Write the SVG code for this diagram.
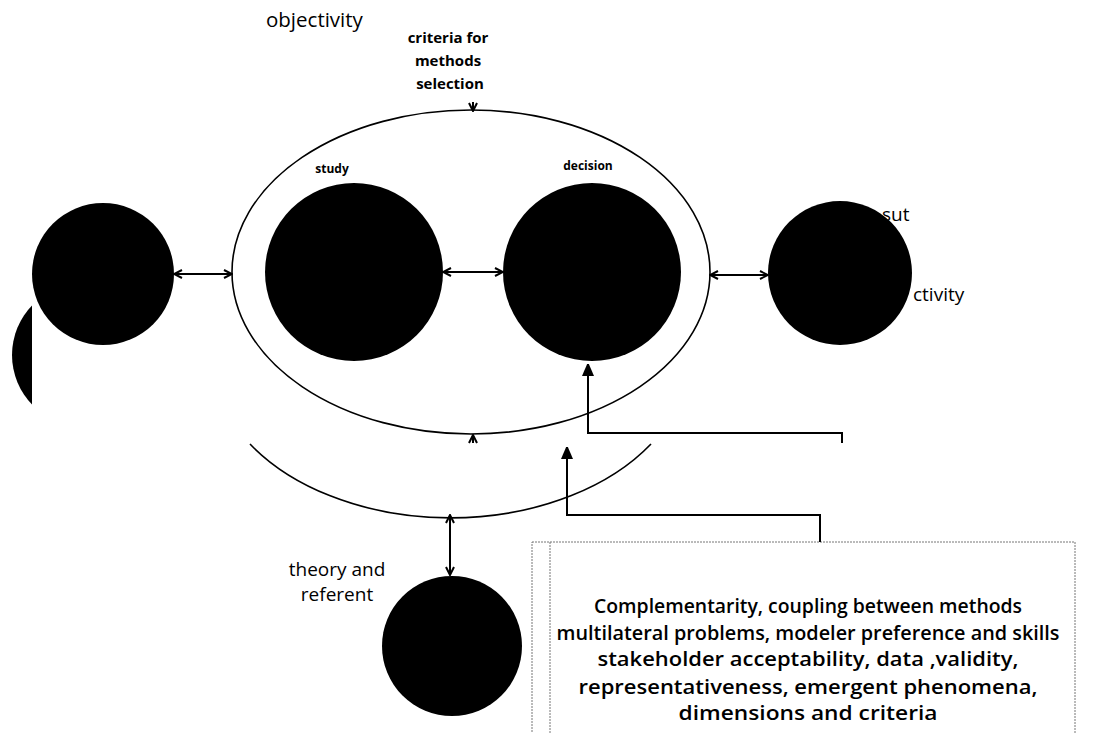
<svg xmlns="http://www.w3.org/2000/svg" width="1104" height="733" viewBox="0 0 1104 733">
  <style>
    .blob { fill: #000; }
    .ring { fill: none; stroke: #000; stroke-width: 1.6; }
    .link { fill: none; stroke: #000; stroke-width: 2; }
    .lbl { font-family: "Open Sans", "Liberation Sans", sans-serif; fill: #000; }
    .reg { font-size: 19px; }
    .semi { font-weight: 600; }
    .bold { font-weight: bold; }
    .box { fill: none; stroke: #777; stroke-width: 1; stroke-dasharray: 2 1; }
  </style>
  <defs>
    <marker id="open" viewBox="0 0 10 10" refX="9" refY="5" markerWidth="10" markerHeight="10" markerUnits="userSpaceOnUse" orient="auto-start-reverse">
      <path d="M1,1 L9,5 L1,9" fill="none" stroke="#000" stroke-width="2"/>
    </marker>
    <marker id="solid" viewBox="0 0 12 16" refX="12" refY="6" markerWidth="12" markerHeight="16" markerUnits="userSpaceOnUse" orient="auto">
      <path d="M0,0 L14,6 L0,12 Z" fill="#000"/>
    </marker>
    <clipPath id="leftClip">
      <rect x="0" y="0" width="32" height="733"/>
    </clipPath>
  </defs>

  <rect width="1104" height="733" fill="#fff"/>

  <!-- outer ellipses -->
  <g id="scope">
    <ellipse class="ring" cx="471" cy="272" rx="239" ry="162"/>
  </g>
  <g id="scope-lower">
    <path class="ring" d="M 250,444 A 239 162 0 0 0 651,444"/>
  </g>

  <!-- nodes -->
  <g id="node-left">
    <circle class="blob" cx="103" cy="274" r="71"/>
  </g>
  <g id="node-left-partial">
    <circle class="blob" cx="83" cy="355" r="71" clip-path="url(#leftClip)"/>
  </g>
  <g id="node-study">
    <circle class="blob" cx="354" cy="272" r="89"/>
    <text class="lbl bold" x="332" y="173" font-size="12" text-anchor="middle">study</text>
  </g>
  <g id="node-decision">
    <circle class="blob" cx="592" cy="272" r="89"/>
    <text class="lbl bold" x="588" y="170" font-size="12" text-anchor="middle">decision</text>
  </g>
  <g id="node-right">
    <circle class="blob" cx="840" cy="273" r="72"/>
    <text class="lbl reg" x="882" y="221">sut</text>
    <text class="lbl reg" x="913" y="301">ctivity</text>
  </g>
  <g id="node-theory">
    <circle class="blob" cx="452" cy="646" r="70"/>
    <text class="lbl reg" x="337" y="576" text-anchor="middle">theory and</text>
    <text class="lbl reg" x="337" y="601" text-anchor="middle">referent</text>
  </g>
  <g id="label-objectivity">
    <text class="lbl" x="266" y="27" font-size="20.5">objectivity</text>
  </g>
  <g id="label-criteria">
    <text class="lbl bold" x="448" y="43" font-size="15" text-anchor="middle">criteria for</text>
    <text class="lbl bold" x="448" y="66" font-size="15" text-anchor="middle">methods</text>
    <text class="lbl bold" x="450" y="89" font-size="15" text-anchor="middle">selection</text>
  </g>
  <g id="criteria-box">
    <rect class="box" x="532" y="542" width="543" height="200"/>
    <line class="box" x1="550" y1="542" x2="550" y2="733"/>
    <g class="lbl reg semi" text-anchor="middle">
      <text x="808" y="613" textLength="428" lengthAdjust="spacingAndGlyphs">Complementarity, coupling between methods</text>
      <text x="808" y="640" textLength="503" lengthAdjust="spacingAndGlyphs">multilateral problems, modeler preference and skills</text>
      <text x="808" y="666" textLength="421" lengthAdjust="spacingAndGlyphs">stakeholder acceptability, data ,validity,</text>
      <text x="808" y="694" textLength="459" lengthAdjust="spacingAndGlyphs">representativeness, emergent phenomena,</text>
      <text x="808" y="720" textLength="259" lengthAdjust="spacingAndGlyphs">dimensions and criteria</text>
    </g>
  </g>

  <!-- connectors -->
  <g id="connectors">
    <line class="link" x1="174" y1="274" x2="232" y2="274" marker-start="url(#open)" marker-end="url(#open)"/>
    <line class="link" x1="443" y1="272" x2="503" y2="272" marker-start="url(#open)" marker-end="url(#open)"/>
    <line class="link" x1="710" y1="275" x2="768" y2="275" marker-start="url(#open)" marker-end="url(#open)"/>
    <line class="link" x1="450" y1="515" x2="450" y2="575" marker-start="url(#open)" marker-end="url(#open)"/>
    <line class="link" x1="473" y1="102" x2="473" y2="111" marker-end="url(#open)"/>
    <line class="link" x1="473" y1="443" x2="473" y2="435" marker-end="url(#open)"/>
    <path class="link" d="M 820,542 V 515 H 567 V 447" marker-end="url(#solid)"/>
    <path class="link" d="M 842,443 V 433 H 588 V 364" marker-end="url(#solid)"/>
  </g>
</svg>
